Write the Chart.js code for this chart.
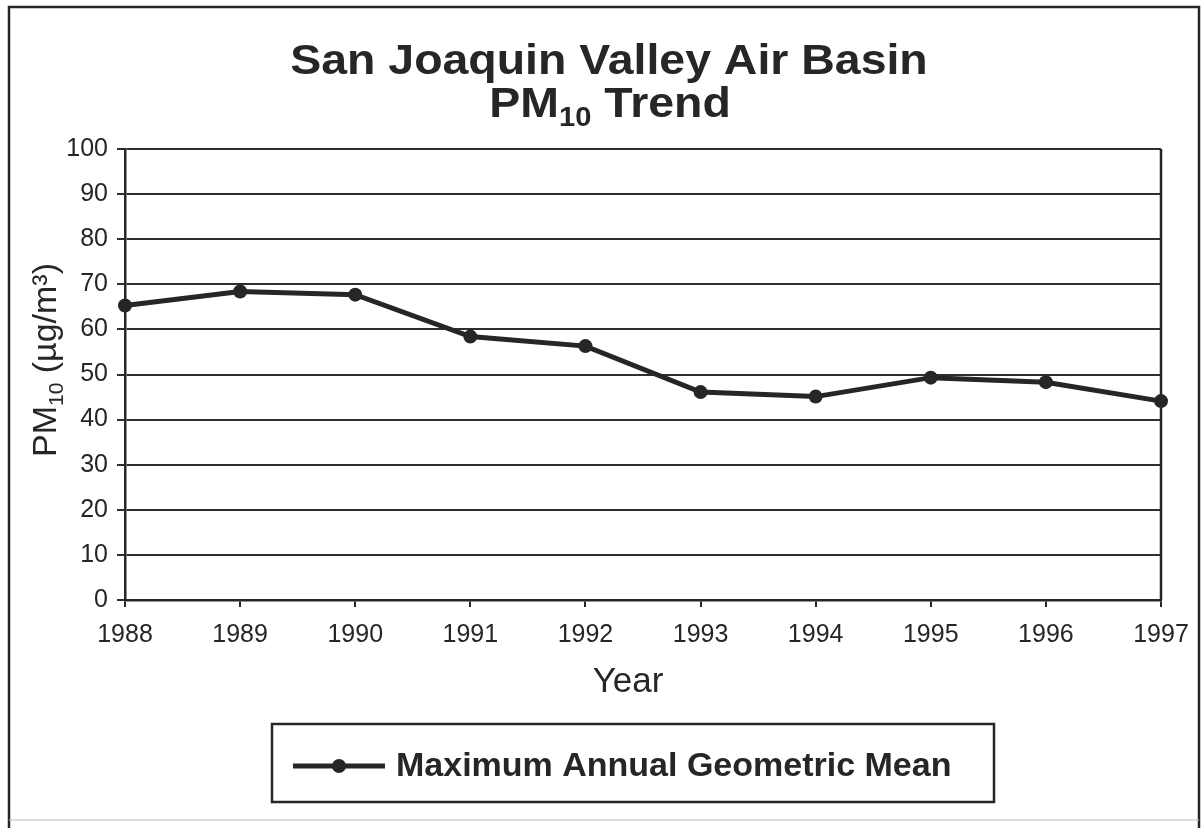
<!DOCTYPE html>
<html>
<head>
<meta charset="utf-8">
<script src="https://cdn.jsdelivr.net/npm/chart.js@4.4.1/dist/chart.umd.min.js"></script>
<style>
  html, body { margin: 0; padding: 0; background: #fff; }
  #pm10-chart { display: block; }
</style>
</head>
<body>
<canvas id="pm10-chart" width="1204" height="828"></canvas>
<script>
// data
const years = ["1988", "1989", "1990", "1991", "1992", "1993", "1994", "1995", "1996", "1997"];
const maxAnnualGeoMean = [65.3, 68.4, 67.7, 58.4, 56.3, 46.1, 45.1, 49.3, 48.3, 44.1];
const seriesLabel = "Maximum Annual Geometric Mean";
const titleLine1 = "San Joaquin Valley Air Basin";
const titleLine2 = ["PM", "10", " Trend"]; // base, subscript, rest
const yTitle = ["PM", "10", " (\u00b5g/m\u00b3)"];
const xTitle = "Year";
const yMin = 0, yMax = 100, yStep = 10;

const ink = "#262626";
const sans = "'Liberation Sans', Arial, sans-serif";

// draws text made of [base, subscript, rest], centred on x
function drawSubText(ctx, parts, cx, y, size, weight) {
  const main = weight + " " + size + "px " + sans;
  const sub = weight + " " + Math.round(size * 0.62) + "px " + sans;
  ctx.font = main;
  const w0 = ctx.measureText(parts[0]).width;
  const w2 = ctx.measureText(parts[2]).width;
  ctx.font = sub;
  const w1 = ctx.measureText(parts[1]).width;
  let x = cx - (w0 + w1 + w2) / 2;
  ctx.textAlign = "left";
  ctx.textBaseline = "alphabetic";
  ctx.font = main;
  ctx.fillText(parts[0], x, y);
  x += w0;
  ctx.font = sub;
  ctx.fillText(parts[1], x, y + size * 0.2);
  x += w1;
  ctx.font = main;
  ctx.fillText(parts[2], x, y);
}

const decorations = {
  id: "decorations",
  beforeDraw(chart) {
    const ctx = chart.ctx;
    ctx.save();
    ctx.fillStyle = "#fff";
    ctx.fillRect(0, 0, chart.width, chart.height);
    // outer frame of the figure
    ctx.strokeStyle = ink;
    ctx.lineWidth = 2.5;
    ctx.beginPath();
    ctx.moveTo(9, chart.height);
    ctx.lineTo(9, 7);
    ctx.lineTo(1199, 7);
    ctx.lineTo(1199, chart.height);
    ctx.stroke();
    ctx.strokeStyle = "#bbb";
    ctx.lineWidth = 1;
    ctx.beginPath();
    ctx.moveTo(9, 820);
    ctx.lineTo(1199, 820);
    ctx.stroke();
    ctx.restore();
  },
  afterDraw(chart) {
    const ctx = chart.ctx;
    const area = chart.chartArea;
    ctx.save();
    ctx.fillStyle = ink;
    ctx.strokeStyle = ink;

    // right edge of the plot box
    ctx.lineWidth = 2.5;
    ctx.beginPath();
    ctx.moveTo(area.right, area.top);
    ctx.lineTo(area.right, area.bottom);
    ctx.stroke();

    // title, a little wider than the stock face like the scan
    ctx.save();
    ctx.translate(609, 0);
    ctx.scale(1.08, 1);
    ctx.textAlign = "center";
    ctx.textBaseline = "alphabetic";
    ctx.font = "bold 43px " + sans;
    ctx.fillText(titleLine1, 0, 74);
    drawSubText(ctx, titleLine2, 1, 117, 43, "bold");
    ctx.restore();

    // y title, rotated
    ctx.save();
    ctx.translate(56, 360);
    ctx.rotate(-Math.PI / 2);
    drawSubText(ctx, yTitle, 0, 0, 34, "normal");
    ctx.restore();

    // x title
    ctx.textAlign = "center";
    ctx.font = "normal 35px " + sans;
    ctx.fillText(xTitle, 628, 692);

    // legend box
    ctx.lineWidth = 2.5;
    ctx.strokeRect(272, 724, 722, 78);
    const ds = chart.data.datasets[0];
    ctx.strokeStyle = ds.borderColor;
    ctx.lineWidth = ds.borderWidth;
    ctx.beginPath();
    ctx.moveTo(293, 766);
    ctx.lineTo(385, 766);
    ctx.stroke();
    ctx.fillStyle = ds.pointBackgroundColor;
    ctx.beginPath();
    ctx.arc(339, 766, ds.pointRadius, 0, Math.PI * 2);
    ctx.fill();
    ctx.fillStyle = ink;
    ctx.textAlign = "left";
    ctx.textBaseline = "middle";
    ctx.font = "bold 34px " + sans;
    ctx.fillText(ds.label, 396, 767);
    ctx.restore();
  }
};

new Chart(document.querySelector("#pm10-chart").getContext("2d"), {
  type: "line",
  data: {
    labels: years,
    datasets: [
      {
        label: seriesLabel,
        data: maxAnnualGeoMean,
        borderColor: ink,
        backgroundColor: ink,
        borderWidth: 5,
        pointRadius: 7,
        pointBackgroundColor: ink,
        pointBorderWidth: 0,
        tension: 0,
      },
    ],
  },
  options: {
    responsive: false,
    animation: false,
    layout: { padding: { top: 149, right: 43, bottom: 0, left: 0 } },
    plugins: {
      legend: { display: false },
      tooltip: { enabled: false },
    },
    scales: {
      x: {
        offset: false,
        afterFit: (scale) => { scale.height = 228; },
        border: { color: ink, width: 2.5 },
        grid: { drawOnChartArea: false, drawTicks: true, tickLength: 7, color: ink, lineWidth: 2 },
        ticks: { color: ink, padding: 13, maxRotation: 0, autoSkip: false, font: { family: sans, size: 25 } },
      },
      y: {
        min: yMin,
        max: yMax,
        afterFit: (scale) => { scale.width = 125; },
        border: { color: ink, width: 2.5 },
        grid: { color: "#2e2e2e", lineWidth: 2, tickLength: 8 },
        ticks: { stepSize: yStep, color: ink, padding: 9, font: { family: sans, size: 25 } },
      },
    },
  },
  plugins: [decorations],
});
</script>
</body>
</html>
